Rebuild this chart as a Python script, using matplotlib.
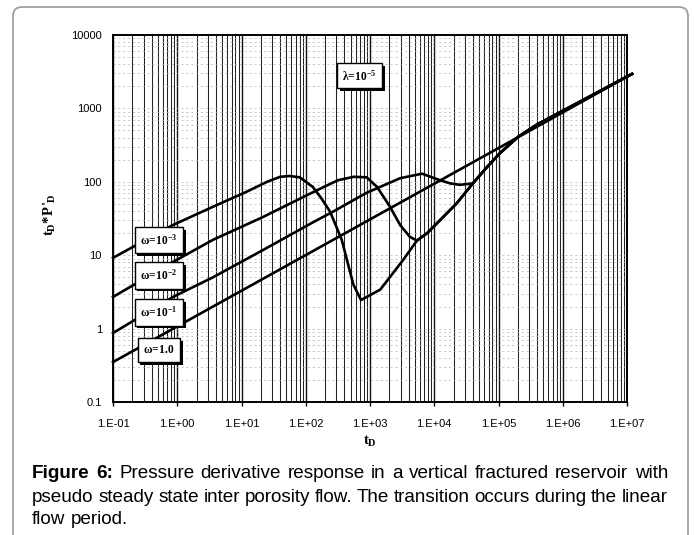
import numpy as np
import matplotlib
matplotlib.use("Agg")
import matplotlib.pyplot as plt
from matplotlib import patheffects
from matplotlib.patches import FancyBboxPatch
from matplotlib.transforms import IdentityTransform
from matplotlib.ticker import FixedLocator, NullFormatter

plt.rcParams['font.family'] = ['Liberation Sans', 'DejaVu Sans']
plt.rcParams['mathtext.fontset'] = 'custom'
plt.rcParams['mathtext.rm'] = 'Liberation Serif'
plt.rcParams['mathtext.it'] = 'Liberation Serif:italic'
plt.rcParams['mathtext.bf'] = 'Liberation Serif:bold'

# ---------------- data ----------------
t_w3 = [0.1, 0.85, 3.6, 11.7, 25, 40, 56, 81, 129, 174, 240, 363, 550, 725,
        1445, 3240, 5370, 7760, 12300, 22400, 39800, 66000, 105000, 200000,
        398000, 1.2e7]
d_w3 = [9.2, 25.7, 45.7, 72.4, 100, 117, 120, 115, 85, 60, 39, 16.2, 4.0, 2.45,
        3.4, 8.5, 15.8, 20, 30, 51, 95, 158, 245, 407, 603, 2950]

t_w2 = [0.1, 0.95, 3.6, 21.4, 129, 316, 562, 890, 1290, 2040, 2950, 4170, 5370,
        7760, 12300, 22400, 39800, 66000, 105000, 200000, 398000, 1.2e7]
d_w2 = [2.7, 8.5, 16.2, 33, 72, 105, 117, 115, 85, 46, 25.7, 17.8, 15.8,
        20, 30, 51, 95, 158, 245, 407, 603, 2950]

t_w1 = [0.1, 0.86, 3.6, 21.4, 129, 263, 890, 2950, 6460, 12300, 17800, 25100,
        39800, 66000, 105000, 200000, 398000, 1.2e7]
d_w1 = [0.87, 2.7, 5.0, 11.7, 28, 39, 71, 112, 129, 105, 95, 91,
        95, 158, 245, 407, 603, 2950]

t_w0 = [0.1, 1.2e7]
d_w0 = [0.35, 2950]

series_t = [t_w3, t_w2, t_w1, t_w0]
series_d = [d_w3, d_w2, d_w1, d_w0]
omega_labels = [r'$\mathbf{\omega\!=\!10^{-3}}$', r'$\mathbf{\omega\!=\!10^{-2}}$',
                r'$\mathbf{\omega\!=\!10^{-1}}$', r'$\mathbf{\omega\!=\!1.0}$']
omega_label_t = [0.52, 0.52, 0.52, 0.52]
omega_label_d = [16.2, 5.3, 1.66, 0.51]

lambda_label = r'$\mathbf{\lambda\!=\!10^{-5}}$'
lambda_pos = (690, 2770)

x_ticks = [1e-1, 1e0, 1e1, 1e2, 1e3, 1e4, 1e5, 1e6, 1e7]
x_ticklabels = ['1.E-01', '1.E+00', '1.E+01', '1.E+02', '1.E+03', '1.E+04',
                '1.E+05', '1.E+06', '1.E+07']
y_ticks = [0.1, 1, 10, 100, 1000, 10000]
y_ticklabels = ['0.1', '1', '10', '100', '1000', '10000']

caption_bold = 'Figure 6:'
caption_lines = [
    'Pressure derivative response in a vertical fractured reservoir with',
    'pseudo steady state inter porosity flow. The transition occurs during the linear',
    'flow period.',
]

# ---------------- figure ----------------
W, H = 694, 535
fig = plt.figure(figsize=(W / 100, H / 100), dpi=100)
fig.patch.set_facecolor('white')

# rounded frame
frame = FancyBboxPatch((13, -20), 675, 535 - 7 + 20,
                       boxstyle='round,pad=0,rounding_size=9',
                       transform=IdentityTransform(), facecolor='none',
                       edgecolor='#a0a0a0', linewidth=1.3)
fig.patches.append(frame)

ax = fig.add_axes([113 / W, 1 - 402 / H, 514 / W, 367 / H])
ax.set_xscale('log')
ax.set_yscale('log')
ax.set_xlim(0.1, 1e7)
ax.set_ylim(0.1, 10000)

# grid
minor_x = [m * 10.0 ** e for e in range(-1, 7) for m in range(2, 10)]
for xv in minor_x:
    ax.axvline(xv, color='#222222', lw=0.75, zorder=1)
for xv in x_ticks:
    ax.axvline(xv, color='#111111', lw=1.0, zorder=1)
minor_y = [m * 10.0 ** e for e in range(-1, 4) for m in range(2, 10)]
for yv in minor_y + y_ticks:
    ax.axhline(yv, color='#b0b0b0', lw=0.5, ls=(0, (3, 4)), zorder=1)

for tt, dd in zip(series_t, series_d):
    ax.plot(tt, dd, color='black', lw=1.9, zorder=3, clip_on=False,
            solid_joinstyle='round')

ax.xaxis.set_major_locator(FixedLocator(x_ticks))
ax.set_xticklabels(x_ticklabels)
ax.yaxis.set_major_locator(FixedLocator(y_ticks))
ax.set_yticklabels(y_ticklabels)
ax.xaxis.set_minor_formatter(NullFormatter())
ax.yaxis.set_minor_formatter(NullFormatter())
ax.tick_params(axis='both', which='minor', length=0)
ax.tick_params(axis='x', which='major', length=3, width=1, direction='out',
               labelsize=8, pad=9)
ax.tick_params(axis='y', which='major', length=0, labelsize=8, pad=8)
for sp in ax.spines.values():
    sp.set_linewidth(1.4)
    sp.set_zorder(4)

shadow = [patheffects.SimplePatchShadow(offset=(2, -2), shadow_rgbFace='black',
                                        alpha=1.0), patheffects.Normal()]

for lab, tx, ty in zip(omega_labels, omega_label_t, omega_label_d):
    t = ax.text(tx, ty, lab, ha='center', va='center', fontsize=8.3, zorder=5,
                bbox=dict(boxstyle='square,pad=0.5', fc='white', ec='black', lw=1.0))
    t.get_bbox_patch().set_path_effects(shadow)

t = ax.text(lambda_pos[0], lambda_pos[1], lambda_label, ha='center', va='center',
            fontsize=8.3, zorder=5,
            bbox=dict(boxstyle='square,pad=0.45', fc='white', ec='black', lw=1.0))
t.get_bbox_patch().set_path_effects(shadow)

fig.text(50 / W, 1 - 215 / H, r"$\mathbf{t_D{*}P\,'_{\!D}}$", rotation=90,
         ha='center', va='center', fontsize=10.5)
fig.text(370 / W, 1 - 441 / H, r"$\mathbf{t_D}$", ha='center', va='center',
         fontsize=10.5)

# caption (justified lines 1 and 2)
cap_fs = 13.6
ys = [473, 497, 519]
left_px, right_px = 32, 668
renderer = fig.canvas.get_renderer()


def measure(s, bold=False):
    tmp = fig.text(0, 0, s, fontsize=cap_fs,
                   fontweight='bold' if bold else 'normal')
    w = tmp.get_window_extent(renderer).width
    tmp.remove()
    return w


def place_line(words, y_px, justify):
    arts = []
    for w, bold in words:
        a = fig.text(0, 1 - y_px / H, w, fontsize=cap_fs, ha='left', va='center',
                     fontweight='bold' if bold else 'normal')
        arts.append(a)
    widths = [a.get_window_extent(renderer).width for a in arts]
    space = measure('a a') - measure('aa')
    if justify and len(arts) > 1:
        gap = max(space * 0.8, (right_px - left_px - sum(widths)) / (len(arts) - 1))
    else:
        gap = space
    x = left_px
    for a, wd in zip(arts, widths):
        a.set_x(x / W)
        x += wd + gap


words1 = [(w, True) for w in caption_bold.split()] + \
    [(w, False) for w in caption_lines[0].split()]
place_line(words1, ys[0], True)
place_line([(w, False) for w in caption_lines[1].split()], ys[1], True)
place_line([(w, False) for w in caption_lines[2].split()], ys[2], False)

fig.savefig('out.png', dpi=100)
